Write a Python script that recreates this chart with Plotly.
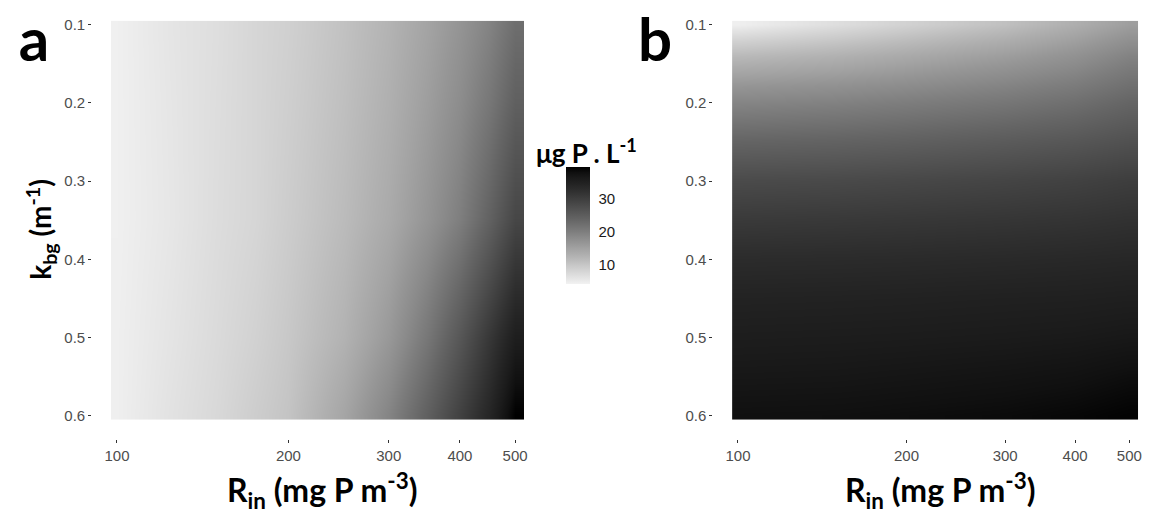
import plotly.graph_objects as go

# ---------------- data ----------------
# Panel a : columns = R_in values, rows = k_bg values
a_rin = [100, 125, 150, 175, 200, 250, 300, 350, 400, 450, 500]
a_kbg = [0.10, 0.20, 0.35, 0.50, 0.60]
a_z = [
    [4.5, 5.9, 6.8, 7.9, 8.7, 10.6, 12.5, 14.7, 16.9, 19.3, 22.4],
    [4.5, 5.8, 6.9, 7.9, 8.9, 10.9, 13.0, 15.5, 18.0, 21.0, 24.5],
    [4.5, 5.7, 7.0, 7.9, 9.2, 11.4, 13.8, 16.8, 20.0, 24.2, 28.6],
    [4.6, 6.0, 7.3, 8.5, 9.8, 12.6, 16.3, 21.0, 26.0, 31.0, 35.5],
    [4.6, 6.3, 7.6, 9.1, 10.3, 14.5, 19.2, 24.5, 29.5, 34.0, 39.6],
]

# Panel b
b_rin = [100, 150, 200, 300, 400, 500]
b_kbg = [0.10, 0.12, 0.14, 0.16, 0.18, 0.20, 0.25, 0.30, 0.35, 0.40, 0.45, 0.50, 0.55, 0.60]
b_z = [
    [4.6, 6.8, 8.5, 10.8, 13.2, 15.5],
    [8.5, 10.0, 11.3, 13.3, 15.3, 17.5],
    [11.6, 12.7, 13.8, 15.5, 17.2, 19.3],
    [14.3, 15.1, 16.0, 17.5, 18.9, 20.8],
    [16.8, 17.4, 18.1, 19.3, 20.5, 22.2],
    [19.0, 19.5, 20.1, 21.1, 22.2, 23.7],
    [23.8, 24.1, 24.5, 25.3, 26.0, 26.9],
    [27.9, 28.1, 28.4, 28.9, 29.4, 30.0],
    [30.6, 30.8, 31.0, 31.3, 31.6, 32.0],
    [33.0, 33.1, 33.2, 33.4, 33.6, 33.8],
    [34.6, 34.7, 34.8, 35.0, 35.1, 35.3],
    [35.7, 35.8, 35.9, 36.1, 36.3, 36.6],
    [36.7, 36.8, 37.0, 37.3, 37.6, 38.1],
    [37.8, 37.9, 38.1, 38.4, 38.8, 39.3],
]

x_ticks = [100, 200, 300, 400, 500]
x_ticktext = ["100", "200", "300", "400", "500"]
y_ticks = [0.1, 0.2, 0.3, 0.4, 0.5, 0.6]
y_ticktext = ["0.1", "0.2", "0.3", "0.4", "0.5", "0.6"]
cbar_ticks = [10, 20, 30]
z_limits = [4.2, 39.6]

# ---------------- colour scale: grey95 -> black, interpolated in Lab ----------------
def _srgb_to_lin(c):
    return c / 12.92 if c <= 0.04045 else ((c + 0.055) / 1.055) ** 2.4

def _lin_to_srgb(c):
    return 12.92 * c if c <= 0.0031308 else 1.055 * c ** (1 / 2.4) - 0.055

def _L_of(g):
    Y = _srgb_to_lin(g / 255)
    return 116 * Y ** (1 / 3) - 16 if Y > 0.008856 else 903.3 * Y

def _grey_of_L(L):
    Y = ((L + 16) / 116) ** 3 if L > 8 else L / 903.3
    return max(0, min(255, round(255 * _lin_to_srgb(Y))))

Lmax = _L_of(242)
colorscale = []
n = 20
for i in range(n + 1):
    t = i / n
    g = _grey_of_L(Lmax * (1 - t))
    colorscale.append([t, f"rgb({g},{g},{g})"])

# ---------------- geometry (pixels) ----------------
W, H = 1163, 519
def px(x):
    return x / W
def py(y):
    return 1 - y / H

top_px, bot_px = 16, 422
a_l, a_r = 105, 522
b_l, b_r = 732, 1142
gap = 20

tickfont = dict(family="Liberation Sans, Arial", size=15, color="#4d4d4d")

fig = go.Figure()
fig.add_trace(go.Heatmap(x=a_rin, y=a_kbg, z=a_z, coloraxis="coloraxis",
                         zsmooth="best", xaxis="x", yaxis="y"))
fig.add_trace(go.Heatmap(x=b_rin, y=b_kbg, z=b_z, coloraxis="coloraxis",
                         zsmooth="best", xaxis="x2", yaxis="y2"))

xr = [1.9895, 2.7147]
yr = [0.605, 0.095]

common_x = dict(type="log", range=xr, tickvals=x_ticks, ticktext=x_ticktext,
                ticks="outside", ticklen=3, tickcolor="#333333", tickwidth=1,
                showgrid=False, zeroline=False, showline=False,
                tickfont=tickfont, anchor="free", position=py(bot_px + gap))
common_y = dict(range=yr, tickvals=y_ticks, ticktext=y_ticktext,
                ticks="outside", ticklen=3, tickcolor="#333333", tickwidth=1,
                showgrid=False, zeroline=False, showline=False,
                tickfont=tickfont, anchor="free",
                domain=[py(bot_px), py(top_px)])

fig.update_layout(
    width=W, height=H, margin=dict(l=0, r=0, t=0, b=0),
    plot_bgcolor="white", paper_bgcolor="white",
    xaxis=dict(domain=[px(a_l), px(a_r)], **common_x),
    yaxis=dict(position=px(a_l - gap), **common_y),
    xaxis2=dict(domain=[px(b_l), px(b_r)], **common_x),
    yaxis2=dict(position=px(b_l - gap), **common_y),
    coloraxis=dict(
        colorscale=colorscale, cmin=z_limits[0], cmax=z_limits[1],
        colorbar=dict(
            x=px(564), xanchor="left", y=py(165), yanchor="top",
            len=117, lenmode="pixels", thickness=24, thicknessmode="pixels",
            outlinewidth=0, xpad=0, ypad=0,
            tickvals=cbar_ticks, ticks="outside", ticklen=6,
            tickcolor="rgba(255,255,255,0)", tickwidth=1,
            tickfont=dict(family="Liberation Sans, Arial", size=15, color="#1a1a1a"),
        ),
    ),
    showlegend=False,
)

title_font = dict(family="Lato, Open Sans", size=32, color="black")
fig.add_annotation(text="<b>R<sub>in</sub> (mg P m<sup>-3</sup>)</b>", x=px(318), y=py(494),
                   xref="paper", yref="paper", showarrow=False, font=title_font,
                   xanchor="center", yanchor="middle")
fig.add_annotation(text="<b>R<sub>in</sub> (mg P m<sup>-3</sup>)</b>", x=px(942), y=py(494),
                   xref="paper", yref="paper", showarrow=False, font=title_font,
                   xanchor="center", yanchor="middle")
fig.add_annotation(text="<b>k<sub>bg</sub> (m<sup>-1</sup>)</b>", x=px(34), y=py(228),
                   xref="paper", yref="paper", showarrow=False,
                   font=dict(family="Lato, Open Sans", size=28, color="black"),
                   textangle=-90, xanchor="center", yanchor="middle")
fig.add_annotation(text="<b>μg P . L<sup>-1</sup></b>", x=px(585), y=py(149),
                   xref="paper", yref="paper", showarrow=False,
                   font=dict(family="Lato, Open Sans", size=26, color="black"),
                   xanchor="center", yanchor="middle")
label_font = dict(family="Lato, Open Sans", size=60, color="black")
fig.add_annotation(text="<b>a</b>", x=px(27), y=py(2), xref="paper", yref="paper",
                   showarrow=False, font=label_font, xanchor="center", yanchor="top",
                   width=50, height=58, valign="middle")
fig.add_annotation(text="<b>b</b>", x=px(654), y=py(2), xref="paper", yref="paper",
                   showarrow=False, font=label_font, xanchor="center", yanchor="top",
                   width=50, height=58, valign="middle")

fig.write_html("out.html")
